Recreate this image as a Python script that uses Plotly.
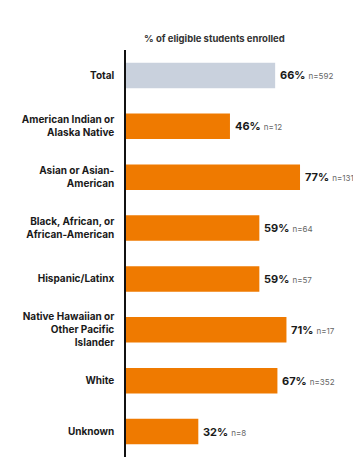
import plotly.graph_objects as go

categories = ["Total", "American Indian or<br>Alaska Native", "Asian or Asian-<br>American",
              "Black, African, or<br>African-American", "Hispanic/Latinx",
              "Native Hawaiian or<br>Other Pacific<br>Islander", "White", "Unknown"]
values = [66, 46, 77, 59, 59, 71, 67, 32]
ns = [592, 12, 131, 64, 57, 17, 352, 8]
colors = ["#C9D1DD"] + ["#EF7A00"] * 7

fig = go.Figure()
fig.add_trace(go.Bar(
    y=categories, x=values, orientation="h",
    marker=dict(color=colors, line=dict(width=0)),
    hoverinfo="skip",
))

for c, v, n in zip(categories, values, ns):
    fig.add_annotation(
        x=v, y=c, xref="x", yref="y", xanchor="left", xshift=3, showarrow=False,
        text=f"<b>{v}%</b> <span style='font-size:8px;color:#666666'>n={n}</span>",
        font=dict(family="Inter, Arial", size=11, color="#1a1a1a"),
    )

fig.add_annotation(
    x=0.39, y=1.0, xref="paper", yref="paper", yanchor="bottom", yshift=3,
    showarrow=False, text="<b>% of eligible students enrolled</b>",
    font=dict(family="Inter, Arial", size=9.5, color="#333333"),
)

fig.update_layout(
    width=353, height=463,
    margin=dict(l=126, r=1, t=50, b=6),
    paper_bgcolor="white", plot_bgcolor="white",
    bargap=0.5, showlegend=False,
    font=dict(family="Inter, Arial", color="#1a1a1a"),
    xaxis=dict(range=[0, 100], visible=False, showgrid=False, zeroline=False),
    yaxis=dict(
        autorange="reversed", showgrid=False, zeroline=False,
        showline=True, linecolor="#111111", linewidth=1.5,
        ticks="", ticklabelstandoff=8,
        tickmode="array", tickvals=categories,
        ticktext=[f"<b>{c}</b>" for c in categories],
        tickfont=dict(family="Inter, Arial", size=10, color="#1a1a1a"),
    ),
)

fig.write_html("out.html")
